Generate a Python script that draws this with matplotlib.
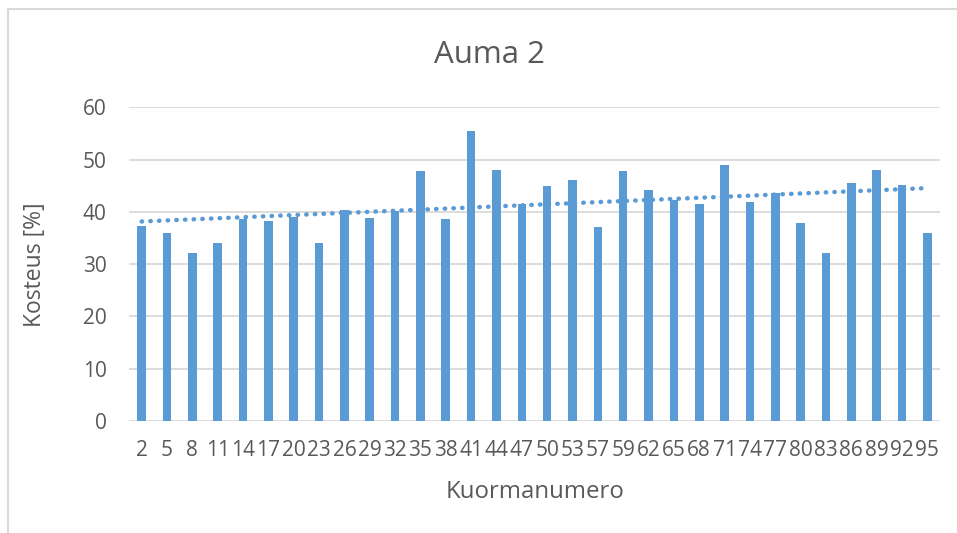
import numpy as np
import matplotlib
matplotlib.use("Agg")
import matplotlib.pyplot as plt
from matplotlib.lines import Line2D

# data
loads = [2, 5, 8, 11, 14, 17, 20, 23, 26, 29, 32, 35, 38, 41, 44, 47,
         50, 53, 57, 59, 62, 65, 68, 71, 74, 77, 80, 83, 86, 89, 92, 95]
moisture = [37.3, 36.0, 32.1, 34.1, 38.7, 38.3, 39.0, 34.0, 40.3, 38.8, 40.1, 47.9,
            38.6, 55.5, 48.1, 41.5, 45.0, 46.1, 37.1, 47.8, 44.1, 42.2, 41.6, 49.0,
            41.9, 43.6, 37.9, 32.1, 45.5, 48.0, 45.1, 36.0]

title = "Auma 2"
ylabel = "Kosteus [%]"
xlabel = "Kuormanumero"

bar_color = "#5b9bd5"
grid_color = "#d9d9d9"
text_color = "#595959"

plt.rcParams["font.family"] = ["Open Sans", "DejaVu Sans"]

fig = plt.figure(figsize=(9.57, 5.33), dpi=100)
ax = fig.add_axes([0.1348, 0.2101, 0.8474, 0.5886])

x = np.arange(len(loads))
ax.bar(x, moisture, width=0.34, color=bar_color, zorder=3)

# linear trendline (as Excel draws it)
k, b = np.polyfit(x, moisture, 1)
ax.plot(x, k * x + b, linestyle=(0, (0.1, 1.85)), dash_capstyle="round",
        color=bar_color, lw=3.2, zorder=4)

ax.set_xlim(-0.5, len(loads) - 0.5)
ax.set_ylim(0, 60)
ax.set_yticks(range(0, 61, 10))
ax.set_xticks(x)
ax.set_xticklabels([str(v) for v in loads])
ax.yaxis.grid(True, color=grid_color, lw=1.3, zorder=0)
ax.set_axisbelow(True)
for s in ax.spines.values():
    s.set_visible(False)
ax.tick_params(length=0, labelsize=15, colors=text_color)
ax.tick_params(axis="y", pad=16)
ax.tick_params(axis="x", pad=14)

fig.text(0.511, 0.897, title, ha="center", va="center", fontsize=22.5, color=text_color)
fig.text(0.037, 0.503, ylabel, ha="center", va="center", rotation=90,
         fontsize=16.5, color=text_color)
fig.text(0.559, 0.077, xlabel, ha="center", va="center", fontsize=17.3, color=text_color)

# chart area frame (left and top edges visible)
fig.add_artist(Line2D([0.0087, 0.0087], [0.0, 0.983], transform=fig.transFigure,
                      color="#d9d9d9", lw=1.5))
fig.add_artist(Line2D([0.0087, 1.0], [0.983, 0.983], transform=fig.transFigure,
                      color="#d9d9d9", lw=1.5))

fig.savefig("out.png", dpi=100, facecolor="white")
